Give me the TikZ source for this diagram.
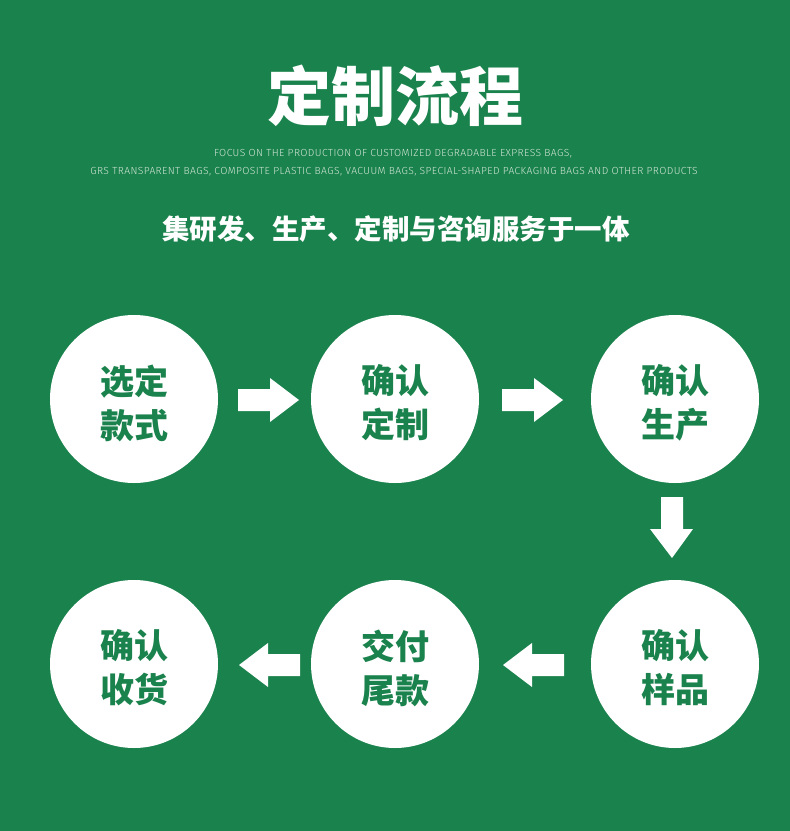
\documentclass[tikz,border=0pt]{standalone}
\usepackage{fontspec}
\newfontfamily\cjk{Noto Sans CJK SC}
\newfontfamily\subf[LetterSpace=4]{Fira Sans Light}
\definecolor{bg}{RGB}{26,130,76}
\definecolor{subc}{RGB}{210,230,216}
\begin{document}
\begin{tikzpicture}[x=1pt,y=-1pt,
  stepcircle/.style={circle,fill=white,minimum size=168pt,inner sep=0pt},
  steptext/.style={text=bg,font=\cjk\bfseries\fontsize{34}{44}\selectfont,align=center},
  arrowshape/.style={fill=white,draw=none}]
\fill[bg] (0,0) rectangle (790,831);
\useasboundingbox (0,0) rectangle (790,831);
\node[text=white,font=\cjk\bfseries\fontsize{64}{64}\selectfont] (title) at (395,96) {定制流程};
\node[text=subc,font=\subf\fontsize{10.3}{10.3}\selectfont] (sub1) at (393,154) {FOCUS ON THE PRODUCTION OF CUSTOMIZED DEGRADABLE EXPRESS BAGS,};
\node[text=subc,font=\subf\fontsize{10.3}{10.3}\selectfont] (sub2) at (394,172) {GRS TRANSPARENT BAGS, COMPOSITE PLASTIC BAGS, VACUUM BAGS, SPECIAL-SHAPED PACKAGING BAGS AND OTHER PRODUCTS};
\node[text=white,font=\cjk\bfseries\fontsize{27.5}{27.5}\selectfont] (tag) at (396,229) {集研发、生产、定制与咨询服务于一体};
% circles
\node[stepcircle] (c1) at (134,399) {};
\node[stepcircle] (c2) at (395,399) {};
\node[stepcircle] (c3) at (675,399) {};
\node[stepcircle] (c4) at (675,664) {};
\node[stepcircle] (c5) at (395,664) {};
\node[stepcircle] (c6) at (134,664) {};
\node[steptext] at ([yshift=-4pt]c1) {选定\\款式};
\node[steptext] at ([yshift=-4pt]c2) {确认\\定制};
\node[steptext] at ([yshift=-4pt]c3) {确认\\生产};
\node[steptext] at ([yshift=-4pt]c4) {确认\\样品};
\node[steptext] at ([yshift=-4pt]c5) {交付\\尾款};
\node[steptext] at ([yshift=-4pt]c6) {确认\\收货};
% arrows row 1 (right)
\foreach \x in {238,502}{
  \fill[arrowshape] (\x,389) -- (\x+32,389) -- (\x+32,378) -- (\x+61,400) -- (\x+32,422) -- (\x+32,411) -- (\x,411) -- cycle;
}
% down arrow
\fill[arrowshape] (661,497) -- (683,497) -- (683,529) -- (693,529) -- (672,558) -- (650,529) -- (661,529) -- cycle;
% arrows row 2 (left)
\foreach \x in {300,564}{
  \fill[arrowshape] (\x,654) -- (\x-32,654) -- (\x-32,643) -- (\x-61,665) -- (\x-32,687) -- (\x-32,676) -- (\x,676) -- cycle;
}
\end{tikzpicture}
\end{document}
